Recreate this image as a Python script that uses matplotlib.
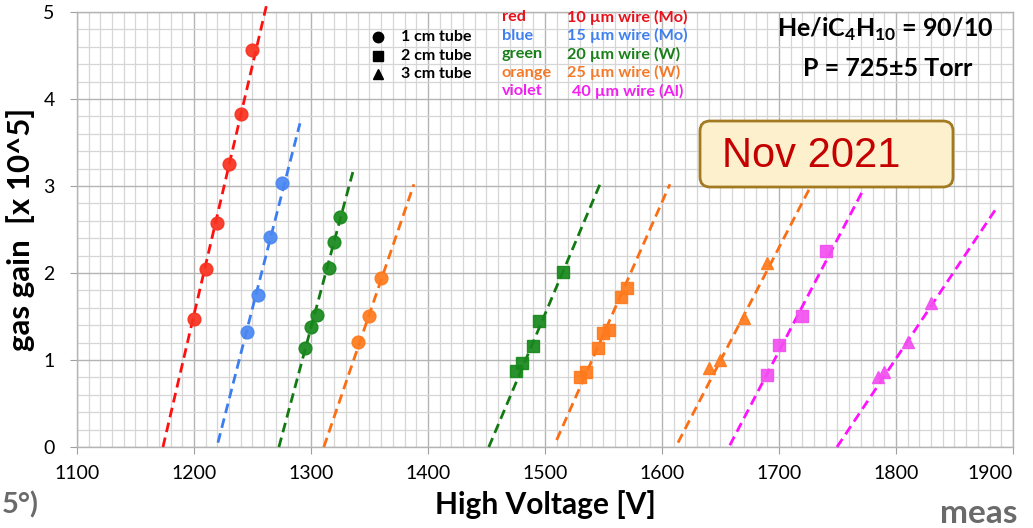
"""
Gas gain vs high voltage for several wire diameters and tube sizes
"""

import matplotlib
matplotlib.use('Agg')
import matplotlib.pyplot as plt
from matplotlib.patches import FancyBboxPatch
from matplotlib.transforms import IdentityTransform
from matplotlib.ticker import MultipleLocator

# measured points: voltage [V] and gas gain [x 10^5]
red_1cm_v = [1200, 1210, 1220, 1230, 1240, 1250]
red_1cm_g = [1.47, 2.05, 2.58, 3.25, 3.83, 4.56]
blue_1cm_v = [1245, 1255, 1265, 1275]
blue_1cm_g = [1.32, 1.75, 2.41, 3.04]
green_1cm_v = [1295, 1300, 1305, 1315, 1320, 1325]
green_1cm_g = [1.14, 1.38, 1.52, 2.06, 2.36, 2.64]
orange_1cm_v = [1340, 1350, 1360]
orange_1cm_g = [1.21, 1.51, 1.94]
green_2cm_v = [1475, 1480, 1490, 1495, 1515]
green_2cm_g = [0.87, 0.97, 1.16, 1.45, 2.01]
orange_2cm_v = [1530, 1535, 1545, 1550, 1555, 1565, 1570]
orange_2cm_g = [0.80, 0.86, 1.14, 1.31, 1.35, 1.72, 1.83]
orange_3cm_v = [1640, 1650, 1670, 1690]
orange_3cm_g = [0.91, 1.00, 1.48, 2.11]
violet_2cm_v = [1690, 1700, 1720, 1740]
violet_2cm_g = [0.83, 1.17, 1.50, 2.25]
violet_3cm_v = [1785, 1790, 1810, 1830]
violet_3cm_g = [0.80, 0.86, 1.21, 1.66]

# fit lines: [V start, V end], [gain start, gain end]
red_1cm_fit = ([1173.5, 1262.4], [0.0, 5.10])
blue_1cm_fit = ([1220.5, 1290.6], [0.05, 3.72])
green_1cm_fit = ([1272.6, 1336.8], [0.0, 3.21])
orange_1cm_fit = ([1311, 1388], [0.0, 3.02])
green_2cm_fit = ([1452, 1547], [0.0, 3.02])
orange_2cm_fit = ([1510, 1606.8], [0.08, 3.02])
orange_3cm_fit = ([1613.7, 1726.5], [0.05, 2.98])
violet_2cm_fit = ([1658, 1771.8], [0.02, 2.95])
violet_3cm_fit = ([1749.6, 1884.6], [0.0, 2.72])

x_ticks = [1100, 1200, 1300, 1400, 1500, 1600, 1700, 1800, 1900]
y_ticks = [0, 1, 2, 3, 4, 5]

wire_names = ['red', 'blue', 'green', 'orange', 'violet']
wire_labels = ['10 µm wire (Mo)', '15 µm wire (Mo)', '20 µm wire (W)',
               '25 µm wire (W)', '40 µm wire (Al)']
tube_labels = ['1 cm tube', '2 cm tube', '3 cm tube']

# colours
MARK = {'red': '#f8311f', 'blue': '#4a87f2', 'green': '#17881b',
        'orange': '#ff7a1c', 'violet': '#f24ff0'}
LINE = {'red': '#ff1010', 'blue': '#3c7df0', 'green': '#137a13',
        'orange': '#fa6e14', 'violet': '#ff10ff'}
TEXT = {'red': '#e8101a', 'blue': '#3f7ff0', 'green': '#1a7f1a',
        'orange': '#f47a2a', 'violet': '#f21ff0'}
SHAPE = {'1cm': 'o', '2cm': 's', '3cm': '^'}

series = [
    ('red', '1cm', red_1cm_v, red_1cm_g, red_1cm_fit),
    ('blue', '1cm', blue_1cm_v, blue_1cm_g, blue_1cm_fit),
    ('green', '1cm', green_1cm_v, green_1cm_g, green_1cm_fit),
    ('orange', '1cm', orange_1cm_v, orange_1cm_g, orange_1cm_fit),
    ('green', '2cm', green_2cm_v, green_2cm_g, green_2cm_fit),
    ('orange', '2cm', orange_2cm_v, orange_2cm_g, orange_2cm_fit),
    ('orange', '3cm', orange_3cm_v, orange_3cm_g, orange_3cm_fit),
    ('violet', '2cm', violet_2cm_v, violet_2cm_g, violet_2cm_fit),
    ('violet', '3cm', violet_3cm_v, violet_3cm_g, violet_3cm_fit),
]

plt.rcParams['font.family'] = ['Lato', 'DejaVu Sans']
plt.rcParams['mathtext.fontset'] = 'custom'
plt.rcParams['mathtext.rm'] = 'Lato'
plt.rcParams['mathtext.bf'] = 'Lato:bold'

fig = plt.figure(figsize=(10.33, 5.28), dpi=100)
ax = fig.add_axes([0.0745, 0.1534, 0.9061, 0.8239])

for color, tube, v, g, fit in series:
    ax.plot(fit[0], fit[1], '--', color=LINE[color], lw=2.0,
            dashes=(3.5, 2.0), zorder=3, clip_on=False)
    ms = 9.2 if SHAPE[tube] == 'o' else 8.7
    ax.plot(v, g, SHAPE[tube], color=MARK[color], ms=ms, mec=MARK[color],
            alpha=0.92, zorder=4, clip_on=False)

ax.set_xlim(1100, 1900)
ax.set_ylim(0, 5)
ax.set_xticks(x_ticks)
ax.set_yticks(y_ticks)
ax.xaxis.set_minor_locator(MultipleLocator(10))
ax.yaxis.set_minor_locator(MultipleLocator(0.2))
ax.grid(which='major', color='#b4b4b4', lw=1.0)
ax.grid(which='minor', color='#d6d6d6', lw=0.9)
ax.set_axisbelow(True)
for s in ax.spines.values():
    s.set_color('#b4b4b4')
    s.set_linewidth(1.0)
ax.tick_params(which='major', length=5, color='#a0a0a0', labelsize=14)
ax.tick_params(axis='x', pad=8)
ax.tick_params(axis='y', pad=11)
ax.tick_params(which='minor', length=0)
# last label sits against the right edge of the figure
ax.get_xticklabels()[-1].set_horizontalalignment('right')
ax.get_xticklabels()[-1].set_x(1916)

ax.set_xlabel('High Voltage [V]', fontsize=21.5, fontweight='bold',
              labelpad=6)
ax.set_ylabel('gas gain  [x 10^5]', fontsize=22.5, fontweight='bold',
              labelpad=6)

# marker legend (tube size)
for i, (tube, lab) in enumerate(zip(['1cm', '2cm', '3cm'], tube_labels)):
    y = (528 - (37 + 18.5 * i)) / 528
    fig.lines.append(plt.Line2D([378 / 1033], [y], marker=SHAPE[tube],
                                color='black', ms=7.5, ls='none',
                                transform=fig.transFigure))
    fig.text(401 / 1033, y, lab, fontsize=11.5, fontweight='bold',
             va='center', ha='left')

# colour legend (wire)
for i, (name, lab) in enumerate(zip(wire_names, wire_labels)):
    y = (528 - (17 + 18.5 * i)) / 528
    fig.text(502 / 1033, y, name, fontsize=11.7, fontweight='bold',
             color=TEXT[name], va='center', ha='left')
    x0 = 572 if name == 'violet' else 567
    fig.text(x0 / 1033, y, lab, fontsize=11.7, fontweight='bold',
             color=TEXT[name], va='center', ha='left')

fig.text(885 / 1033, (528 - 29) / 528,
         r'He/iC$_{\mathbf{4}}$H$_{\mathbf{10}}$ = 90/10',
         fontsize=18, fontweight='bold', ha='center', va='center')
fig.text(888 / 1033, (528 - 68) / 528, 'P = 725±5 Torr',
         fontsize=18, fontweight='bold', ha='center', va='center')

# date box
box = FancyBboxPatch((700, 528 - 187), 253, 66,
                     boxstyle='round,pad=0,rounding_size=10',
                     transform=IdentityTransform(), facecolor='#fdf0cd',
                     edgecolor='#a27a22', lw=2.0, zorder=10)
fig.patches.append(box)
fig.text(722 / 1033, (528 - 156) / 528, 'Nov 2021', fontsize=30,
         family='Liberation Sans', color='#c40000', ha='left', va='center',
         zorder=11)

# leftover slide text at the edges
fig.text(2 / 1033, (528 - 505) / 528, '5°)', fontsize=21,
         fontweight='bold', color='#6a6a6a', ha='left', va='center')
fig.text(940 / 1033, 0.0, 'meas', fontsize=24,
         fontweight='bold', color='#6a6a6a', ha='left', va='bottom')

plt.savefig('out.png', dpi=100)
plt.close()
